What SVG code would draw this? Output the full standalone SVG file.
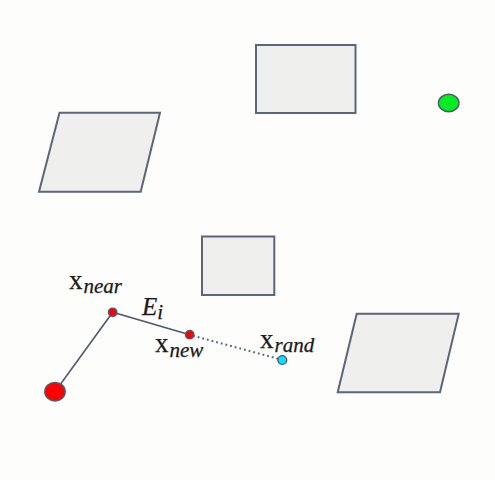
<svg xmlns="http://www.w3.org/2000/svg" width="495" height="480" viewBox="0 0 495 480">
<style>
.obs{fill:#efefed;stroke:#5b6678;stroke-width:2}
.edge{stroke:#4f5b6e;stroke-width:1.6;fill:none}
.dot{stroke:#5b6678;stroke-width:2;stroke-dasharray:1.8 3;fill:none}
.pt{stroke:#4f5b6e;stroke-width:1.4}
.lbl{font-family:"Liberation Serif","DejaVu Serif",serif;fill:#1a1a1a;stroke:#1a1a1a;stroke-width:0.25}
.main{font-size:27px}
.sub{font-size:21px;font-style:italic}
</style>
<rect width="495" height="480" fill="#fdfdfb"/>
<g id="obstacle-rect-top"><rect class="obs" x="256" y="45" width="99.5" height="68"/></g>
<g id="obstacle-para-left"><polygon class="obs" points="59.5,112.7 160,112.7 140.7,191.7 39,191.7"/></g>
<g id="obstacle-rect-mid"><rect class="obs" x="202" y="236.5" width="72.3" height="58.5"/></g>
<g id="obstacle-para-right"><polygon class="obs" points="356.7,313.7 458.7,313.7 440,392.3 337.7,392.3"/></g>
<g id="connectors">
<polyline class="edge" points="55,391.7 112.7,312.3 189.7,334.7"/>
<line class="dot" x1="193" y1="335.8" x2="280" y2="359.3"/>
</g>
<g id="goal"><ellipse cx="448.7" cy="103" rx="10.3" ry="8.7" fill="#00ee22" class="pt"/></g>
<g id="start"><ellipse cx="55" cy="391.7" rx="10.2" ry="9.3" fill="#ff0000" class="pt"/></g>
<g id="x-near"><circle cx="112.7" cy="312.3" r="4.2" fill="#ff0000" class="pt"/>
<text class="lbl" x="69" y="288.5"><tspan class="main">x</tspan><tspan class="sub" dx="1" dy="4.8">near</tspan></text></g>
<g id="x-new"><circle cx="189.7" cy="334.7" r="4.2" fill="#ff0000" class="pt"/>
<text class="lbl" x="155" y="352"><tspan class="main">x</tspan><tspan class="sub" dx="1" dy="4.8">new</tspan></text></g>
<g id="x-rand"><circle cx="282.3" cy="360" r="4.4" fill="#00e5ff" class="pt"/>
<text class="lbl" x="260" y="347.5"><tspan class="main">x</tspan><tspan class="sub" dx="1" dy="4.3">rand</tspan></text></g>
<g id="edge-label"><text class="lbl" x="142" y="315"><tspan style="font-size:25px;font-style:italic">E</tspan><tspan class="sub" dy="3.5">i</tspan></text></g>
</svg>
